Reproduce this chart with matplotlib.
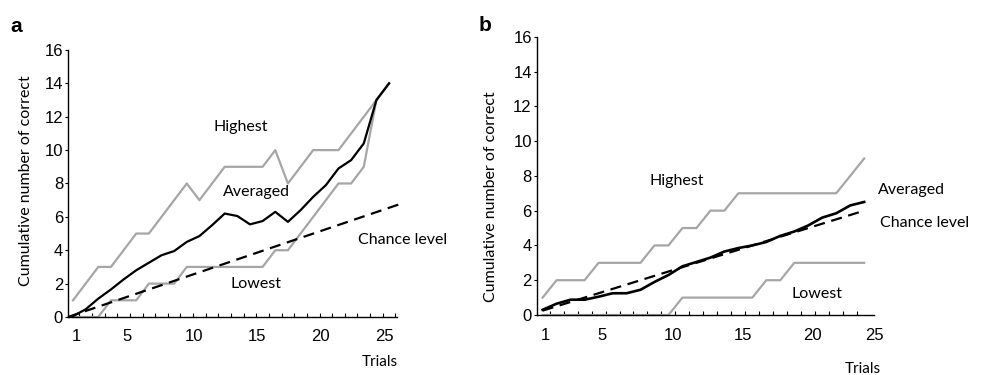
import numpy as np
import matplotlib
matplotlib.use('Agg')
import matplotlib.pyplot as plt

# panel a: 26 trials
trials_a = np.arange(1, 27)
highest_a = [1, 2, 3, 3, 4, 5, 5, 6, 7, 8, 7, 8, 9, 9, 9, 9, 10, 8, 9, 10, 10, 10, 11, 12, 13, 14]
lowest_a = [0, 0, 0, 1, 1, 1, 2, 2, 2, 3, 3, 3, 3, 3, 3, 3, 4, 4, 5, 6, 7, 8, 8, 9, 13, 14]
averaged_a = [0.05, 0.46, 1.1, 1.65, 2.25, 2.8, 3.25, 3.7, 3.95, 4.5, 4.85, 5.5, 6.2,
              6.05, 5.55, 5.75, 6.3, 5.7, 6.4, 7.2, 7.9, 8.9, 9.4, 10.4, 13.0, 14.0]
chance_a_x = [0.6, 26.8]
chance_a = [0.0, 6.75]

# panel b: 24 trials
trials_b = np.arange(1, 25)
highest_b = [1, 2, 2, 2, 3, 3, 3, 3, 4, 4, 5, 5, 6, 6, 7, 7, 7, 7, 7, 7, 7, 7, 8, 9]
lowest_b = [0, 0, 0, 0, 0, 0, 0, 0, 0, 0, 1, 1, 1, 1, 1, 1, 2, 2, 3, 3, 3, 3, 3, 3]
averaged_b = [0.3, 0.65, 0.88, 0.88, 1.05, 1.25, 1.25, 1.45, 1.9, 2.3, 2.8, 3.05,
              3.3, 3.65, 3.85, 4.0, 4.2, 4.55, 4.8, 5.15, 5.6, 5.85, 6.3, 6.5]
chance_b = [0.25, 0.5, 0.75, 1.0, 1.25, 1.5, 1.75, 2.0, 2.25, 2.5, 2.75, 3.0,
            3.25, 3.5, 3.75, 4.0, 4.25, 4.5, 4.75, 5.0, 5.25, 5.5, 5.75, 6.0]

xtick_labels = ['1', '5', '10', '15', '20', '25']
xtick_pos_a = [1.25, 5.3, 10.55, 15.55, 20.55, 25.6]
xtick_pos_b = [1.2, 5.25, 10.3, 15.35, 20.3, 24.7]

gray = '#a6a6a6'
num_font = ['Liberation Sans Narrow', 'Liberation Sans', 'DejaVu Sans']
txt_font = ['Lato', 'DejaVu Sans']
lw = 1.6
dash = (0, (5, 3))

fig = plt.figure(figsize=(9.82, 3.75), dpi=100)
ax_a = fig.add_axes([0.0692, 0.1547, 0.3351, 0.712])
ax_b = fig.add_axes([0.5465, 0.16, 0.3435, 0.742])


def style_axis(ax, xlim, xtick_pos, label_xy):
    ax.set_xlim(*xlim)
    ax.set_ylim(0, 16)
    for s in ['top', 'right']:
        ax.spines[s].set_visible(False)
    for s in ['left', 'bottom']:
        ax.spines[s].set_linewidth(1.0)
    ax.set_yticks(np.arange(0, 17, 2))
    ax.set_yticklabels([str(v) for v in range(0, 17, 2)], family=num_font, fontsize=12)
    ax.tick_params(axis='y', direction='out', length=2.5, width=0.8, pad=1)
    ax.set_xticks(xtick_pos)
    ax.set_xticklabels(xtick_labels, family=num_font, fontsize=12)
    ax.tick_params(axis='x', which='major', length=0, pad=9)
    ax.set_xticks(np.arange(1.5, xlim[1], 1), minor=True)
    ax.tick_params(axis='x', which='minor', direction='in', length=3, width=0.8)
    ax.set_ylabel('Cumulative number of correct', family=txt_font, fontsize=11.5)
    ax.yaxis.set_label_coords(*label_xy)


# panel a
ax_a.plot(trials_a, highest_a, color=gray, lw=lw, clip_on=False)
ax_a.plot(trials_a, lowest_a, color=gray, lw=lw, clip_on=False)
ax_a.plot(chance_a_x, chance_a, color='black', lw=lw, ls=dash, clip_on=False)
ax_a.plot(trials_a, averaged_a, color='black', lw=lw, clip_on=False)
style_axis(ax_a, (0.6, 26.63), xtick_pos_a, (-0.107, 0.509))

ax_a.text(14.3, 11.4, 'Highest', family=txt_font, fontsize=11.5, ha='center', va='center')
ax_a.text(15.5, 7.5, 'Averaged', family=txt_font, fontsize=11.5, ha='center', va='center')
ax_a.text(15.5, 2.0, 'Lowest', family=txt_font, fontsize=11.5, ha='center', va='center')
ax_a.text(27.1, 4.6, 'Chance level', family=txt_font, fontsize=11.5, ha='center', va='center', clip_on=False)
ax_a.text(25.3, -2.7, 'Trials', family=txt_font, fontsize=11, ha='center', va='center')

# panel b
ax_b.plot(trials_b, highest_b, color=gray, lw=lw, clip_on=False)
ax_b.plot(trials_b, lowest_b, color=gray, lw=lw, clip_on=False)
ax_b.plot(trials_b, chance_b, color='black', lw=lw, ls=dash, clip_on=False)
ax_b.plot(trials_b, averaged_b, color='black', lw=lw + 0.3, clip_on=False)
style_axis(ax_b, (0.574, 24.5), xtick_pos_b, (-0.115, 0.424))

ax_b.text(10.6, 7.7, 'Highest', family=txt_font, fontsize=11.5, ha='center', va='center')
ax_b.text(27.4, 7.2, 'Averaged', family=txt_font, fontsize=11.5, ha='center', va='center', clip_on=False)
ax_b.text(28.3, 5.3, 'Chance level', family=txt_font, fontsize=11.5, ha='center', va='center', clip_on=False)
ax_b.text(20.6, 1.2, 'Lowest', family=txt_font, fontsize=11.5, ha='center', va='center')
ax_b.text(23.9, -3.1, 'Trials', family=txt_font, fontsize=11, ha='center', va='center', clip_on=False)

fig.text(0.016, 0.93, 'a', fontsize=15, fontweight='bold', family='Liberation Sans', ha='center', va='center')
fig.text(0.494, 0.933, 'b', fontsize=15, fontweight='bold', family='Liberation Sans', ha='center', va='center')

fig.savefig('out.png', dpi=100)
